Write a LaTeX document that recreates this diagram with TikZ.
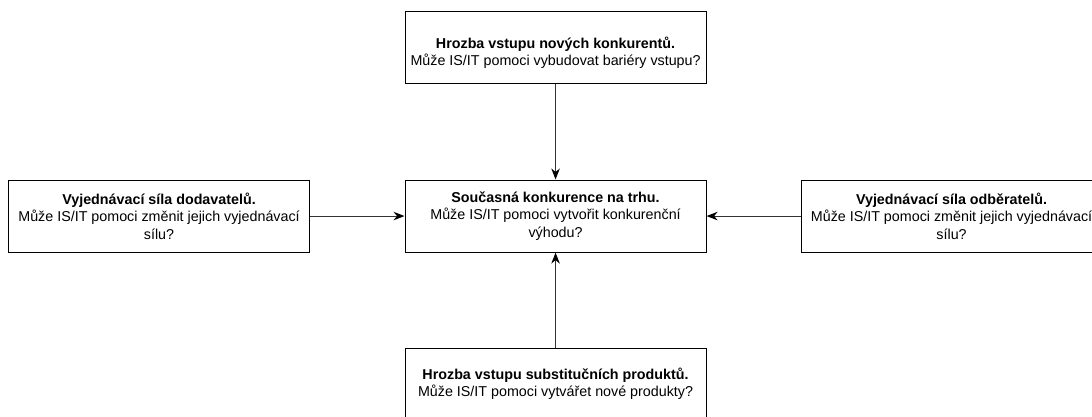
\documentclass[tikz,border=0pt]{standalone}
\usepackage{fontspec}
\setmainfont{Liberation Sans}
\usetikzlibrary{arrows.meta}
\tikzset{
  box/.style={draw=black, line width=1.1pt, fill=white, minimum width=301pt, minimum height=72pt, inner sep=0pt, align=center, anchor=north west},
  boxtext/.style={align=center, inner sep=0pt, font=\fontsize{14.3pt}{17.3pt}\selectfont},
  conn/.style={draw=black!80, line width=1.1pt, -{Stealth[length=11pt,width=8.5pt,inset=3.5pt,color=black]}}
}
\begin{document}
\begin{tikzpicture}[x=1pt,y=-1pt]
\useasboundingbox (0,0) rectangle (1092,417);
\clip (0,0) rectangle (1092,417);
% boxes
\node[box] (top) at (404.5,11) {};
\node[box] (mid) at (404.5,179.5) {};
\node[box] (lft) at (8,179.5) {};
\node[box] (rgt) at (800.5,179.5) {};
\node[box] (bot) at (404.5,348) {};
% texts
\node[boxtext] (toptx) at ([yshift=-5pt]top.center) {\textbf{Hrozba vstupu nových konkurentů.}\\Může IS/IT pomoci vybudovat bariéry vstupu?};
\node[boxtext] (midtx) at (mid.center) {\textbf{Současná konkurence na trhu.}\\Může IS/IT pomoci vytvořit konkurenční\\výhodu?};
\node[boxtext] (lfttx) at (lft.center) {\textbf{Vyjednávací síla dodavatelů.}\\Může IS/IT pomoci změnit jejich vyjednávací\\sílu?};
\node[boxtext] (rgttx) at (rgt.center) {\textbf{Vyjednávací síla odběratelů.}\\Může IS/IT pomoci změnit jejich vyjednávací\\sílu?};
\node[boxtext] (bottx) at ([yshift=1pt]bot.center) {\textbf{Hrozba vstupu substitučních produktů.}\\Může IS/IT pomoci vytvářet nové produkty?};
% connectors
\draw[conn] (top.south) -- (mid.north);
\draw[conn] (lft.east) -- (mid.west);
\draw[conn] (rgt.west) -- (mid.east);
\draw[conn] (bot.north) -- (mid.south);
\end{tikzpicture}
\end{document}
